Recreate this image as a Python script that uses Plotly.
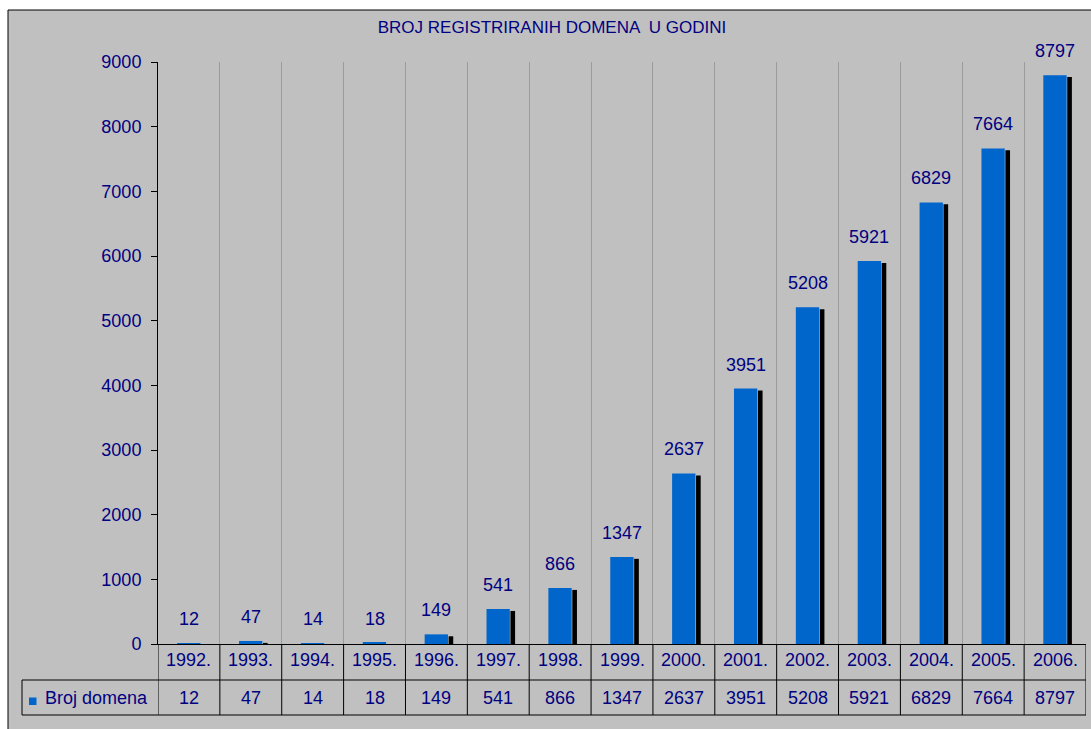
import plotly.graph_objects as go

# ---- data ----
years = ["1992.", "1993.", "1994.", "1995.", "1996.", "1997.", "1998.", "1999.",
         "2000.", "2001.", "2002.", "2003.", "2004.", "2005.", "2006."]
domains = [12, 47, 14, 18, 149, 541, 866, 1347, 2637, 3951, 5208, 5921, 6829, 7664, 8797]
series_name = "Broj domena"
title_text = "BROJ REGISTRIRANIH DOMENA  U GODINI"
y_ticks = [0, 1000, 2000, 3000, 4000, 5000, 6000, 7000, 8000, 9000]

# ---- style ----
W, H = 1091, 729
ML, MR, MT, MB = 158, 5, 62, 85
PW, PH = W - ML - MR, H - MT - MB
NAVY = "#000080"
BLUE = "#0066CC"
GRAY = "#C0C0C0"
FONT = "Arial, Liberation Sans, sans-serif"


def px_x(px):
    return (px - ML) / PW


def px_y(py):
    return (H - MB - py) / PH


fig = go.Figure()

# shadow bars
fig.add_trace(go.Bar(
    x=years, y=domains, base=-30, offset=0.197, width=0.075,
    marker=dict(color="black", line=dict(width=0)), hoverinfo="skip"))
# main bars
fig.add_trace(go.Bar(
    x=years, y=domains, offset=-0.19, width=0.377, name=series_name,
    marker=dict(color=BLUE, line=dict(width=0))))

shapes = []
# outer chart area background + border
shapes.append(dict(type="rect", xref="paper", yref="paper",
                   x0=px_x(8), x1=px_x(W + 60), y0=px_y(H + 60), y1=px_y(10),
                   fillcolor=GRAY, line=dict(color="black", width=1), layer="below"))

# data table
row1_y, row2_y, row3_y = px_y(644), px_y(680), px_y(715)
n = len(years)
for i in range(n + 1):
    shapes.append(dict(type="line", xref="x", yref="paper",
                       x0=i - 0.5, x1=i - 0.5, y0=row3_y, y1=row1_y,
                       line=dict(color="black", width=1)))
for yy in (row2_y, row3_y):
    shapes.append(dict(type="line", xref="paper", yref="paper",
                       x0=px_x(22), x1=1, y0=yy, y1=yy,
                       line=dict(color="black", width=1)))
shapes.append(dict(type="line", xref="paper", yref="paper",
                   x0=px_x(22), x1=px_x(22), y0=row3_y, y1=row2_y,
                   line=dict(color="black", width=1)))
# legend key square
shapes.append(dict(type="rect", xref="paper", yref="paper",
                   x0=px_x(29), x1=px_x(36.5), y0=px_y(705), y1=px_y(697.5),
                   fillcolor=BLUE, line=dict(width=0)))

annotations = []
for i, (yr, v) in enumerate(zip(years, domains)):
    annotations.append(dict(x=i, y=v, xref="x", yref="y", text=str(v),
                            showarrow=False, yshift=24, yanchor="middle",
                            font=dict(size=18, color=NAVY, family=FONT)))
    annotations.append(dict(x=i, y=px_y(660), xref="x", yref="paper", text=yr,
                            showarrow=False, yanchor="middle",
                            font=dict(size=18, color=NAVY, family=FONT)))
    annotations.append(dict(x=i, y=px_y(698), xref="x", yref="paper", text=str(v),
                            showarrow=False, yanchor="middle",
                            font=dict(size=18, color=NAVY, family=FONT)))
annotations.append(dict(x=px_x(43), y=px_y(698), xref="paper", yref="paper",
                        text=series_name, showarrow=False, xanchor="left",
                        yanchor="middle",
                        font=dict(size=18, color=NAVY, family=FONT)))

fig.update_layout(
    width=W, height=H,
    margin=dict(l=ML, r=MR, t=MT, b=MB, pad=0),
    paper_bgcolor="white", plot_bgcolor=GRAY,
    barmode="overlay", showlegend=False, hovermode=False,
    font=dict(family=FONT, color=NAVY, size=18),
    title=dict(text=title_text, x=552 / W, xref="container", xanchor="center",
               y=1 - 27 / H, yref="container", yanchor="middle",
               font=dict(size=17, color=NAVY, family=FONT)),
    xaxis=dict(type="category", categoryorder="array", categoryarray=years,
               range=[-0.5, n - 0.5], tickson="boundaries", showgrid=True,
               gridcolor="#9c9c9c", gridwidth=1, showticklabels=False,
               ticks="", showline=True, linecolor="black", linewidth=1,
               zeroline=False, fixedrange=True),
    yaxis=dict(range=[0, 9000], tickvals=y_ticks, showgrid=False, zeroline=False,
               showline=True, linecolor="black", linewidth=1,
               ticks="outside", ticklen=6, tickcolor="black", tickwidth=1,
               ticklabelstandoff=6,
               tickfont=dict(size=18, color=NAVY, family=FONT), fixedrange=True),
    shapes=shapes, annotations=annotations,
)

fig.write_html("out.html", config={"displayModeBar": False},
               post_script="document.body.style.margin='0';")
